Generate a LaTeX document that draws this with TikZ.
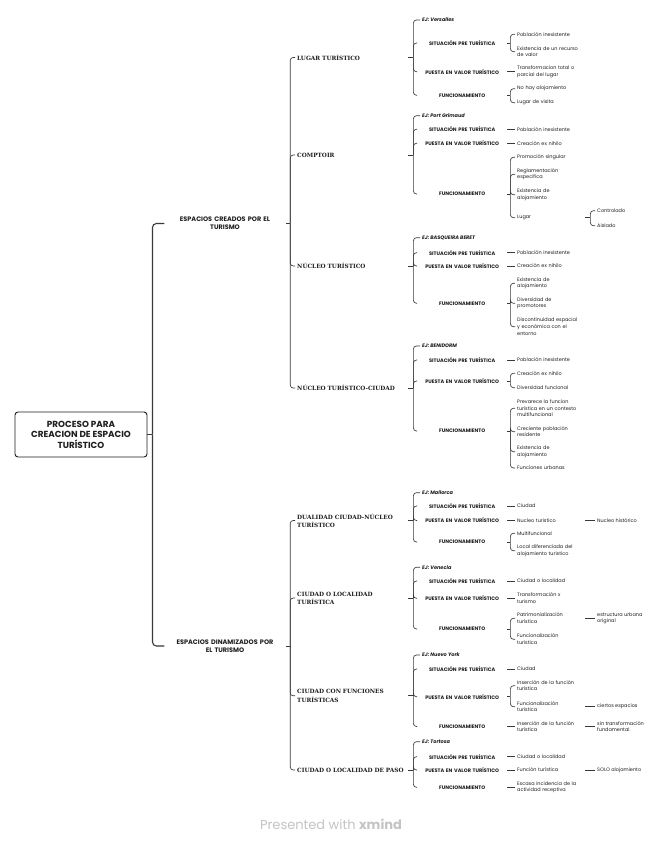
\documentclass[tikz,border=0pt]{standalone}
\usepackage{fontspec}
\setmainfont{Poppins}
\newfontfamily\slab{DejaVu Serif}
\definecolor{tc}{HTML}{1E1E1E}
\definecolor{lc}{HTML}{3A3A3A}
\definecolor{fc}{HTML}{C4C4C4}
\newcommand\stub[2]{\draw[br] (#1.east) -- ++(#2,0) coordinate (#1-b);}
\newcommand\conn[2]{\draw[br] (#1-b) |- (#2.west);}
\begin{document}
\begin{tikzpicture}[x=1pt,y=-1pt,
  every node/.style={text=tc},
  br/.style={draw=lc,line width=0.65pt,rounded corners=3pt},
  brA/.style={draw=lc,line width=1.1pt,rounded corners=4pt},
  rootnode/.style={draw=tc,line width=0.9pt,rounded corners=3pt,minimum width=132pt,minimum height=45pt,align=center,font=\bfseries\fontsize{8.8}{10.5}\selectfont},
  lone/.style={inner xsep=2pt,inner ysep=1pt,text width=117pt,align=center,font=\bfseries\fontsize{6.5}{8.4}\selectfont},
  ltwo/.style={anchor=west,inner xsep=2pt,inner ysep=1pt,text width=109pt,align=left,font=\slab\bfseries\fontsize{5.8}{8.2}\selectfont},
  lthree/.style={anchor=west,inner xsep=0pt,inner ysep=1pt,text width=90pt,align=center,font=\bfseries\fontsize{5}{6.5}\selectfont},
  lej/.style={anchor=west,inner xsep=2pt,inner ysep=1pt,font=\bfseries\itshape\fontsize{5}{6.5}\selectfont},
  lfour/.style={anchor=west,inner xsep=2pt,inner ysep=1pt,text width=66pt,align=left,font=\fontsize{4.95}{6.7}\selectfont},
  lfive/.style={anchor=west,inner xsep=2pt,inner ysep=1pt,align=left,font=\fontsize{4.95}{6.7}\selectfont}
]
\useasboundingbox[fill=white] (0,0) rectangle (664,848);

% root
\node[rootnode] (root) at (81,434.5) {PROCESO PARA\\CREACION DE ESPACIO\\TURÍSTICO};
\node[lone] (c1) at (225,223.5) {ESPACIOS CREADOS POR EL\\TURISMO};
\node[lone] (c2) at (225,646) {ESPACIOS DINAMIZADOS POR\\EL TURISMO};
\draw[brA] (root.east) -- ++(5,0) coordinate (root-b);
\draw[brA] (root-b) |- (c1.west);
\draw[brA] (root-b) |- (c2.west);

% level 2
\node[ltwo] (a0) at (295,57.5) {LUGAR TURÍSTICO};
\node[ltwo] (b0) at (295,155) {COMPTOIR};
\node[ltwo] (c0) at (295,266) {NÚCLEO TURÍSTICO};
\node[ltwo] (d0) at (295,388) {NÚCLEO TURÍSTICO-CIUDAD};
\node[ltwo] (e0) at (295,520.5) {DUALIDAD CIUDAD-NÚCLEO\\TURÍSTICO};
\node[ltwo] (f0) at (295,598) {CIUDAD O LOCALIDAD\\TURÍSTICA};
\node[ltwo] (g0) at (295,695.8) {CIUDAD CON FUNCIONES\\TURÍSTICAS};
\node[ltwo] (h0) at (295,770) {CIUDAD O LOCALIDAD DE PASO};
\stub{c1}{4.5}
\foreach \n in {a0,b0,c0,d0}{\conn{c1}{\n}}
\stub{c2}{4.5}
\foreach \n in {e0,f0,g0,h0}{\conn{c2}{\n}}

% ---------- A: Lugar turistico
\node[lej] (a1) at (420,20) {EJ: Versalles};
\node[lthree] (a2) at (417,43) {SITUACIÓN PRE TURÍSTICA};
\node[lthree] (a3) at (417,71.7) {PUESTA EN VALOR TURÍSTICO};
\node[lthree] (a4) at (417,95.3) {FUNCIONAMIENTO};
\stub{a0}{5}
\foreach \n in {a1,a2,a3,a4}{\conn{a0}{\n}}
\node[lfour] (a21) at (515,34.3) {Población inexistente};
\node[lfour] (a22) at (515,51.7) {Existencia de un recurso\\de valor};
\stub{a2}{3}\conn{a2}{a21}\conn{a2}{a22}
\node[lfour] (a31) at (515,71.7) {Transformacion total o\\parcial del lugar};
\draw[br] (a3.east) -- (a31.west);
\node[lfour] (a41) at (515,88.7) {No hay alojamiento};
\node[lfour] (a42) at (515,102.7) {Lugar de visita};
\stub{a4}{3}\conn{a4}{a41}\conn{a4}{a42}

% ---------- B: Comptoir
\node[lej] (b1) at (420,115.7) {EJ: Port Grimaud};
\node[lthree] (b2) at (417,129.3) {SITUACIÓN PRE TURÍSTICA};
\node[lthree] (b3) at (417,143.3) {PUESTA EN VALOR TURÍSTICO};
\node[lthree] (b4) at (417,194) {FUNCIONAMIENTO};
\stub{b0}{5}
\foreach \n in {b1,b2,b3,b4}{\conn{b0}{\n}}
\node[lfour] (b21) at (515,129.3) {Población inexistente};
\draw[br] (b2.east) -- (b21.west);
\node[lfour] (b31) at (515,143.3) {Creación ex nihilo};
\draw[br] (b3.east) -- (b31.west);
\node[lfour] (b41) at (515,157.3) {Promoción singular};
\node[lfour] (b42) at (515,174.3) {Reglamentación\\especifica};
\node[lfour] (b43) at (515,194.7) {Existencia de\\alojamiento};
\node[lfour] (b44) at (515,217.7) {Lugar};
\stub{b4}{3}
\foreach \n in {b41,b42,b43,b44}{\conn{b4}{\n}}
\node[lfive] (b441) at (595,210.7) {Controlado};
\node[lfive] (b442) at (595,225.7) {Aislado};
\stub{b44}{5}\conn{b44}{b441}\conn{b44}{b442}

% ---------- C: Nucleo turistico
\node[lej] (c01) at (420,237.7) {EJ: BASQUEIRA BERET};
\node[lthree] (c02) at (417,252.7) {SITUACIÓN PRE TURÍSTICA};
\node[lthree] (c03) at (417,266) {PUESTA EN VALOR TURÍSTICO};
\node[lthree] (c04) at (417,303.3) {FUNCIONAMIENTO};
\stub{c0}{5}
\foreach \n in {c01,c02,c03,c04}{\conn{c0}{\n}}
\node[lfour] (c021) at (515,252.7) {Población inexistente};
\draw[br] (c02.east) -- (c021.west);
\node[lfour] (c031) at (515,266) {Creación ex nihilo};
\draw[br] (c03.east) -- (c031.west);
\node[lfour] (c041) at (515,283.3) {Existencia de\\alojamiento};
\node[lfour] (c042) at (515,303.3) {Diversidad de\\promotores};
\node[lfour] (c043) at (515,326.7) {Discontinuidad espacial\\y económica con el\\entorno};
\stub{c04}{3}
\foreach \n in {c041,c042,c043}{\conn{c04}{\n}}

% ---------- D: Nucleo turistico-ciudad
\node[lej] (d1) at (420,346) {EJ: BENIDORM};
\node[lthree] (d2) at (417,360) {SITUACIÓN PRE TURÍSTICA};
\node[lthree] (d3) at (417,381) {PUESTA EN VALOR TURÍSTICO};
\node[lthree] (d4) at (417,431) {FUNCIONAMIENTO};
\stub{d0}{5}
\foreach \n in {d1,d2,d3,d4}{\conn{d0}{\n}}
\node[lfour] (d21) at (515,360) {Población inexistente};
\draw[br] (d2.east) -- (d21.west);
\node[lfour] (d31) at (515,373.3) {Creación ex nihilo};
\node[lfour] (d32) at (515,387.7) {Diversidad funcional};
\stub{d3}{3}\conn{d3}{d31}\conn{d3}{d32}
\node[lfour] (d41) at (515,408.3) {Prevarece la funcion\\turística en un contexto\\multifuncional};
\node[lfour] (d42) at (515,431.7) {Creciente población\\residente};
\node[lfour] (d43) at (515,451.7) {Existencia de\\alojamiento};
\node[lfour] (d44) at (515,468) {Funciones urbanas};
\stub{d4}{3}
\foreach \n in {d41,d42,d43,d44}{\conn{d4}{\n}}

% ---------- E: Dualidad
\node[lej] (e1) at (420,492.7) {EJ: Mallorca};
\node[lthree] (e2) at (417,506) {SITUACIÓN PRE TURÍSTICA};
\node[lthree] (e3) at (417,520.5) {PUESTA EN VALOR TURÍSTICO};
\node[lthree] (e4) at (417,542) {FUNCIONAMIENTO};
\stub{e0}{5}
\foreach \n in {e1,e2,e3,e4}{\conn{e0}{\n}}
\node[lfour] (e21) at (515,506) {Ciudad};
\draw[br] (e2.east) -- (e21.west);
\node[lfour] (e31) at (515,520.5) {Nucleo turistico};
\draw[br] (e3.east) -- (e31.west);
\node[lfive] (e311) at (595,520.5) {Nucleo histórico};
\draw[br] (e31.east) -- (e311.west);
\node[lfour] (e41) at (515,533.3) {Multifuncional};
\node[lfour] (e42) at (515,550.8) {Local diferenciada del\\alojamiento turistico};
\stub{e4}{3}\conn{e4}{e41}\conn{e4}{e42}

% ---------- F: Ciudad o localidad turistica
\node[lej] (f1) at (420,567.3) {EJ: Venecia};
\node[lthree] (f2) at (417,581) {SITUACIÓN PRE TURÍSTICA};
\node[lthree] (f3) at (417,598.3) {PUESTA EN VALOR TURÍSTICO};
\node[lthree] (f4) at (417,629) {FUNCIONAMIENTO};
\stub{f0}{5}
\foreach \n in {f1,f2,f3,f4}{\conn{f0}{\n}}
\node[lfour] (f21) at (515,581) {Ciudad o localidad};
\draw[br] (f2.east) -- (f21.west);
\node[lfour] (f31) at (515,598.3) {Transformación x\\turismo};
\draw[br] (f3.east) -- (f31.west);
\node[lfour] (f41) at (515,618.3) {Patrimonialización\\turística};
\node[lfour] (f42) at (515,639.3) {Funcionalización\\turística};
\stub{f4}{3}\conn{f4}{f41}\conn{f4}{f42}
\node[lfive] (f411) at (595,618.3) {estructura urbana\\original};
\draw[br] (f41.east) -- (f411.west);

% ---------- G: Ciudad con funciones turisticas
\node[lej] (g1) at (420,655) {EJ: Nuevo York};
\node[lthree] (g2) at (417,669) {SITUACIÓN PRE TURÍSTICA};
\node[lthree] (g3) at (417,696.7) {PUESTA EN VALOR TURÍSTICO};
\node[lthree] (g4) at (417,726.5) {FUNCIONAMIENTO};
\stub{g0}{5}
\foreach \n in {g1,g2,g3,g4}{\conn{g0}{\n}}
\node[lfour] (g21) at (515,669) {Ciudad};
\draw[br] (g2.east) -- (g21.west);
\node[lfour] (g31) at (515,685.7) {Inserción de la función\\turística};
\node[lfour] (g32) at (515,706.7) {Funcionalización\\turística};
\stub{g3}{3}\conn{g3}{g31}\conn{g3}{g32}
\node[lfive] (g321) at (595,706.7) {ciertos espacios};
\draw[br] (g32.east) -- (g321.west);
\node[lfour] (g41) at (515,726.5) {Inserción de la función\\turística};
\draw[br] (g4.east) -- (g41.west);
\node[lfive] (g411) at (595,726.5) {sin transformación\\fundamental};
\draw[br] (g41.east) -- (g411.west);

% ---------- H: Ciudad o localidad de paso
\node[lej] (h1) at (420,741.7) {EJ: Tortosa};
\node[lthree] (h2) at (417,756.7) {SITUACIÓN PRE TURÍSTICA};
\node[lthree] (h3) at (417,770) {PUESTA EN VALOR TURÍSTICO};
\node[lthree] (h4) at (417,787.3) {FUNCIONAMIENTO};
\stub{h0}{5}
\foreach \n in {h1,h2,h3,h4}{\conn{h0}{\n}}
\node[lfour] (h21) at (515,756.7) {Ciudad o localidad};
\draw[br] (h2.east) -- (h21.west);
\node[lfour] (h31) at (515,770) {Función turística};
\draw[br] (h3.east) -- (h31.west);
\node[lfive] (h311) at (595,770) {SOLO alojamiento};
\draw[br] (h31.east) -- (h311.west);
\node[lfour] (h41) at (515,787.3) {Escasa incidencia de la\\actividad receptiva};
\draw[br] (h4.east) -- (h41.west);

% footer
\node[text=fc,font=\fontsize{13}{15}\selectfont] (foot) at (331,824) {Presented with \textbf{xmind}};
\end{tikzpicture}
\end{document}
